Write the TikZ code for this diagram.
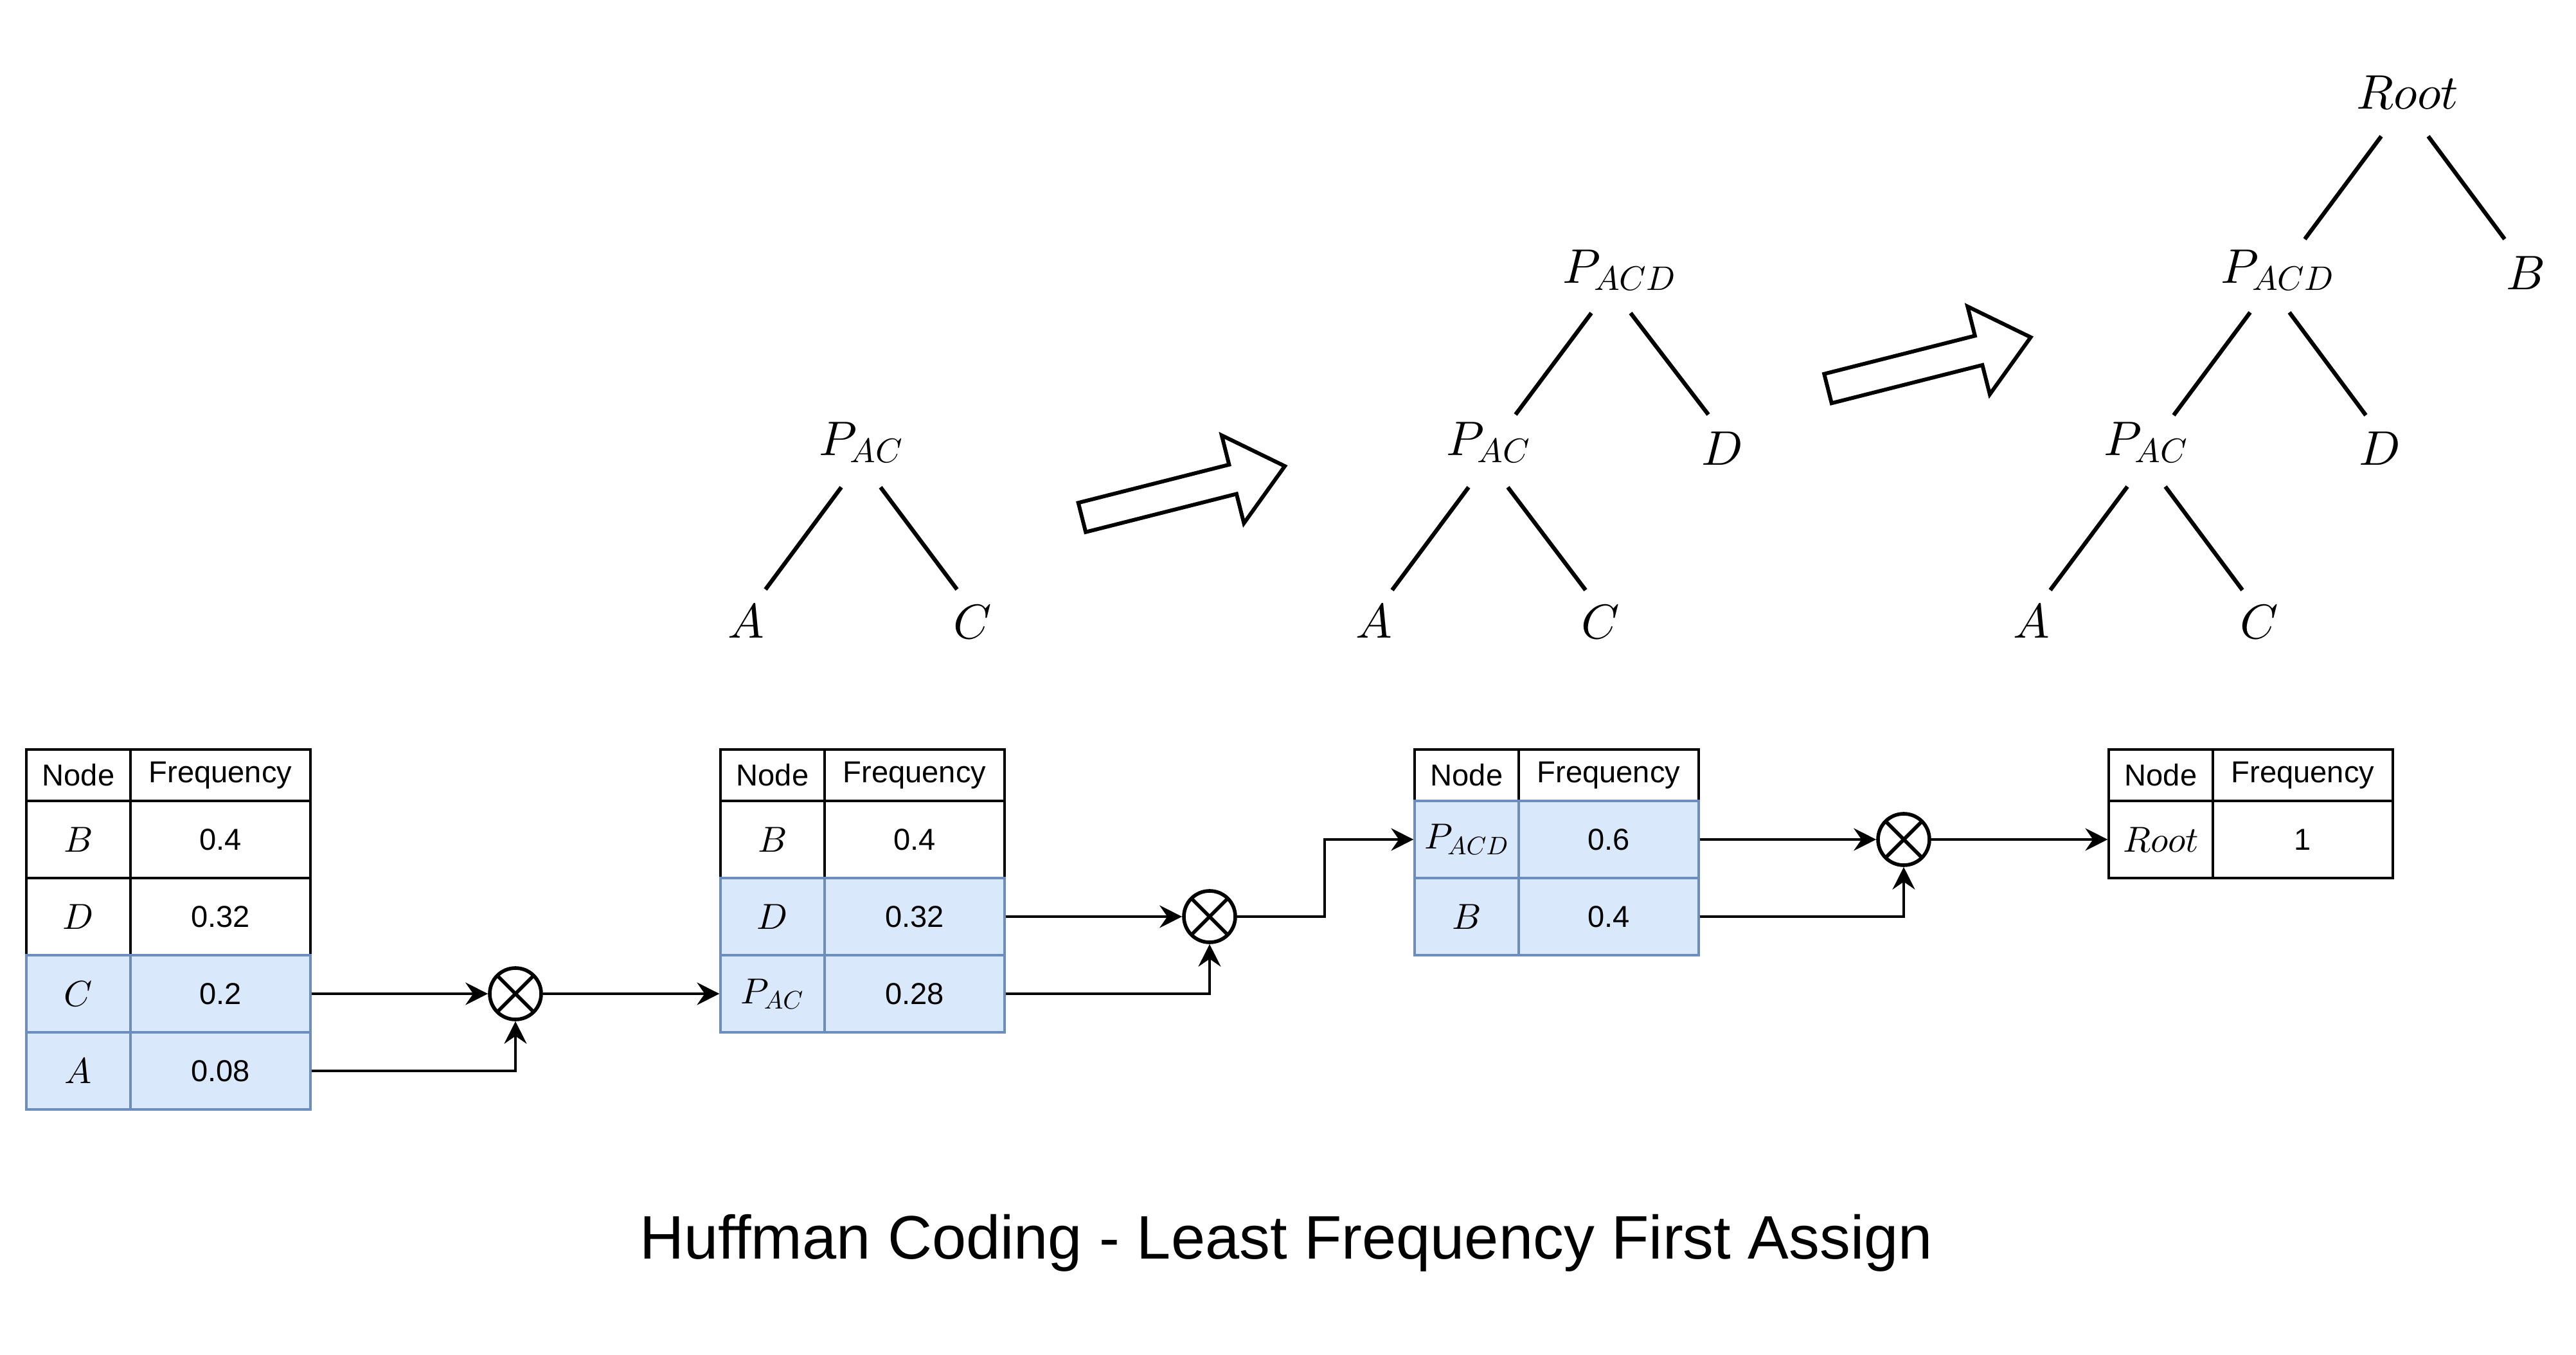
\RequirePackage{fix-cm}
\documentclass[tikz,border=0pt]{standalone}
\usepackage{fontspec}
\newfontfamily\drawfont{Liberation Sans}
\DeclareFontShape{OML}{cmm}{m}{it}{<-> cmmi10}{\skewchar\font'177}
\usepackage{tikz}
\usetikzlibrary{positioning,arrows.meta,calc}

\definecolor{selfill}{HTML}{DAE8FC}
\definecolor{seldraw}{HTML}{6C8EBF}

\tikzset{
  cell/.style={draw, line width=0.9pt, inner sep=0pt, minimum height=1.2cm},
  key/.style={cell, minimum width=1.62cm, font=\fontsize{16}{19}\selectfont},
  val/.style={cell, minimum width=2.8cm, font=\drawfont\fontsize{13.4}{16}\selectfont},
  head/.style={minimum height=0.8cm, font=\drawfont\fontsize{13.4}{16}\selectfont},
  sel/.style={draw=seldraw, fill=selfill},
  leaf/.style={inner sep=0pt, font=\fontsize{21.5}{26}\selectfont},
  branch/.style={line width=1.8pt},
  flow/.style={-{Stealth[length=0.35cm,width=0.35cm,inset=0.12cm]}, line width=1pt},
  merge/.style={circle, draw, line width=1.6pt, minimum size=0.8cm, inner sep=0pt,
    path picture={\draw[line width=1.6pt]
      (path picture bounding box.north west) -- (path picture bounding box.south east)
      (path picture bounding box.north east) -- (path picture bounding box.south west);}},
  bigarrow/.style={draw, line width=1.7pt, line join=miter, fill=white}
}

\begin{document}
\begin{tikzpicture}
        \useasboundingbox (0,0) rectangle (40.08,-21.08);

        % first tree
        \node[leaf] (pac1) at (13.40,-6.88) {$P_{AC}$};
        \node[leaf] (a1) at (11.61,-9.67) {$A$};
        \node[leaf] (c1) at (15.13,-9.68) {$C$};
        \draw[branch] ($(pac1)+(-0.31,-0.70)$) -- ($(a1)+(0.30,0.50)$);
        \draw[branch] ($(pac1)+(0.30,-0.70)$) -- ($(c1)+(-0.24,0.51)$);

        % second tree
        \node[leaf] (pacd2) at (25.20,-4.20) {$P_{ACD}$};
        \node[leaf] (pac2) at (23.16,-6.88) {$P_{AC}$};
        \node[leaf] (d2) at (26.80,-6.98) {$D$};
        \node[leaf] (a2) at (21.38,-9.67) {$A$};
        \node[leaf] (c2) at (24.90,-9.68) {$C$};
        \draw[branch] ($(pacd2)+(-0.44,-0.67)$) -- ($(pac2)+(0.42,0.43)$);
        \draw[branch] ($(pacd2)+(0.17,-0.67)$) -- ($(d2)+(-0.22,0.53)$);
        \draw[branch] ($(pac2)+(-0.31,-0.70)$) -- ($(a2)+(0.28,0.49)$);
        \draw[branch] ($(pac2)+(0.30,-0.70)$) -- ($(c2)+(-0.23,0.50)$);

        % third tree
        \node[leaf] (root3) at (37.46,-1.44) {$Root$};
        \node[leaf] (pacd3) at (35.44,-4.20) {$P_{ACD}$};
        \node[leaf] (b3) at (39.30,-4.25) {$B$};
        \node[leaf] (pac3) at (33.39,-6.88) {$P_{AC}$};
        \node[leaf] (d3) at (37.03,-6.98) {$D$};
        \node[leaf] (a3) at (31.61,-9.67) {$A$};
        \node[leaf] (c3) at (35.15,-9.68) {$C$};
        \draw[branch] ($(root3)+(-0.41,-0.68)$) -- ($(pacd3)+(0.42,0.48)$);
        \draw[branch] ($(root3)+(0.32,-0.68)$) -- ($(b3)+(-0.33,0.53)$);
        \draw[branch] ($(pacd3)+(-0.43,-0.66)$) -- ($(pac3)+(0.43,0.42)$);
        \draw[branch] ($(pacd3)+(0.18,-0.66)$) -- ($(d3)+(-0.22,0.52)$);
        \draw[branch] ($(pac3)+(-0.29,-0.69)$) -- ($(a3)+(0.29,0.49)$);
        \draw[branch] ($(pac3)+(0.30,-0.69)$) -- ($(c3)+(-0.26,0.50)$);

        % big arrows between trees
        \draw[bigarrow, shift={(16.835,-8.05)}, rotate=14.2] (0,-0.235) -- (2.42,-0.235) -- (2.42,-0.705)
            -- (3.255,0) -- (2.42,0.705) -- (2.42,0.235) -- (0,0.235) -- cycle;
        \draw[bigarrow, shift={(28.44,-6.045)}, rotate=14.2] (0,-0.235) -- (2.42,-0.235) -- (2.42,-0.705)
            -- (3.255,0) -- (2.42,0.705) -- (2.42,0.235) -- (0,0.235) -- cycle;

        % table 1
        \node[key, head] (t1kh) at (1.22,-12.06) {Node};
        \node[val, head] (t1vh) at (3.43,-12.06) {Frequency};
        \node[key] (t1kB) at (1.22,-13.06) {$B$};
        \node[val] (t1vB) at (3.43,-13.06) {0.4};
        \node[key] (t1kD) at (1.22,-14.26) {$D$};
        \node[val] (t1vD) at (3.43,-14.26) {0.32};
        \node[key, sel] (t1kC) at (1.22,-15.46) {$C$};
        \node[val, sel] (t1vC) at (3.43,-15.46) {0.2};
        \node[key, sel] (t1kA) at (1.22,-16.66) {$A$};
        \node[val, sel] (t1vA) at (3.43,-16.66) {0.08};

        % table 2
        \node[key, head] (t2kh) at (12.02,-12.06) {Node};
        \node[val, head] (t2vh) at (14.23,-12.06) {Frequency};
        \node[key] (t2kB) at (12.02,-13.06) {$B$};
        \node[val] (t2vB) at (14.23,-13.06) {0.4};
        \node[key, sel] (t2kD) at (12.02,-14.26) {$D$};
        \node[val, sel] (t2vD) at (14.23,-14.26) {0.32};
        \node[key, sel] (t2kP) at (12.02,-15.46) {$P_{AC}$};
        \node[val, sel] (t2vP) at (14.23,-15.46) {0.28};

        % table 3
        \node[key, head] (t3kh) at (22.82,-12.06) {Node};
        \node[val, head] (t3vh) at (25.03,-12.06) {Frequency};
        \node[key, sel] (t3kP) at (22.82,-13.06) {$P_{ACD}$};
        \node[val, sel] (t3vP) at (25.03,-13.06) {0.6};
        \node[key, sel] (t3kB) at (22.82,-14.26) {$B$};
        \node[val, sel] (t3vB) at (25.03,-14.26) {0.4};

        % table 4
        \node[key, head] (t4kh) at (33.62,-12.06) {Node};
        \node[val, head] (t4vh) at (35.83,-12.06) {Frequency};
        \node[key] (t4kR) at (33.62,-13.06) {$Root$};
        \node[val] (t4vR) at (35.83,-13.06) {1};

        % merge points
        \node[merge] (ox1) at (8.02,-15.46) {};
        \node[merge] (ox2) at (18.82,-14.26) {};
        \node[merge] (ox3) at (29.62,-13.06) {};
        \coordinate (bend) at (20.61,-14.26);

        % flow between tables
        \draw[flow] (t1vC) -- (ox1);
        \draw[flow] (t1vA.east) -| (ox1);
        \draw[flow] (ox1) -- (t2kP);
        \draw[flow] (t2vD) -- (ox2);
        \draw[flow] (t2vP.east) -| (ox2);
        \draw[flow] (ox2) -- (bend) |- (t3kP);
        \draw[flow] (t3vP) -- (ox3);
        \draw[flow] (t3vB.east) -| (ox3);
        \draw[flow] (ox3) -- (t4kR);

        \node[font=\drawfont\fontsize{27.2}{32}\selectfont, anchor=base] (title) at (20.01,-19.58)
            {Huffman Coding - Least Frequency First Assign};
\end{tikzpicture}
\end{document}
